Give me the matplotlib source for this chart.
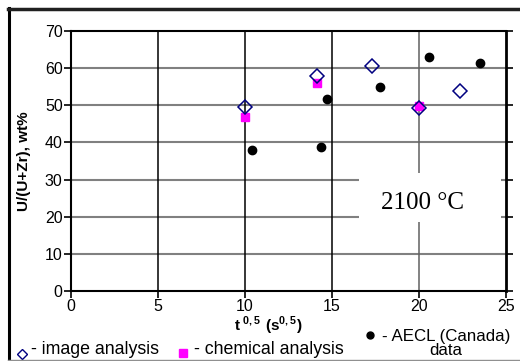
import matplotlib
matplotlib.use("Agg")
import matplotlib.pyplot as plt
from matplotlib.lines import Line2D
from matplotlib.patches import Rectangle

plt.rcParams['font.family'] = ['Liberation Sans', 'DejaVu Sans']
plt.rcParams['mathtext.fontset'] = 'custom'
plt.rcParams['mathtext.rm'] = 'Liberation Sans'
plt.rcParams['mathtext.bf'] = 'Liberation Sans:bold'

# data
img_x = [10.0, 14.15, 17.3, 20.0, 22.35]
img_y = [49.5, 58.0, 60.5, 49.4, 53.9]
chem_x = [10.0, 14.15, 20.0]
chem_y = [46.8, 55.9, 49.8]
aecl_x = [10.4, 14.35, 14.7, 17.75, 20.55, 23.5]
aecl_y = [38.0, 38.7, 51.8, 55.0, 63.1, 61.5]
xticks = [0, 5, 10, 15, 20, 25]
yticks = [0, 10, 20, 30, 40, 50, 60, 70]

W, H = 520, 361
fig = plt.figure(figsize=(W / 100, H / 100), dpi=100)
fig.patch.set_facecolor('white')

def fx(px):
    return px / W

def fy(py):
    return 1 - py / H

ax = fig.add_axes([fx(71), fy(291), fx(506) - fx(71), fy(31) - fy(291)])
ax.set_xlim(0, 25)
ax.set_ylim(0, 70)
ax.set_xticks(xticks)
ax.set_yticks(yticks)
ax.tick_params(axis='both', labelsize=11.5, length=5, width=1.2, color='black', pad=1)
ax.tick_params(axis='y', right=True, direction='out')
for s in ['left', 'bottom', 'top']:
    ax.spines[s].set_linewidth(1.5)
    ax.spines[s].set_color('black')
ax.spines['right'].set_linewidth(2.0)
ax.spines['right'].set_zorder(5)

for yv in yticks[1:-1]:
    ax.axhline(yv, color='#808080', lw=1.5, zorder=1)
for xv in xticks[1:-1]:
    ax.axvline(xv, color='black' if xv != 20 else '#606060', lw=1.1, zorder=1)

# text box
ax.add_patch(Rectangle((16.55, 18.6), 8.15, 13.2, facecolor='white', edgecolor='none', zorder=2))
ax.text(20.2, 22.1, '2100 °C', family='Liberation Serif', fontsize=18,
        ha='center', va='baseline', zorder=3)

ax.plot(aecl_x, aecl_y, 'o', color='black', ms=6, zorder=4, clip_on=False)
ax.plot(chem_x, chem_y, 's', color='#FF00FF', ms=6.3, zorder=5, clip_on=False)
ax.plot(img_x, img_y, 'D', mfc='none', mec='#000080', mew=1.1, ms=7.5, zorder=6, clip_on=False)

ax.set_ylabel('U/(U+Zr), wt%', fontsize=11, fontweight='bold', labelpad=10)
fig.text(fx(268), fy(326),
         r'$\mathbf{t}^{\ \mathbf{0,5}}\ \mathbf{(s}^{\mathbf{0,5}}\mathbf{)}$',
         fontsize=11, ha='center', va='center')

# legend-like annotations
fig.add_artist(Line2D([fx(21.7)], [fy(354)], marker='D', mfc='none', mec='#000080',
                      mew=1.0, ms=5, linestyle='none'))
fig.text(fx(31), fy(350), '- image analysis', fontsize=12.8, ha='left', va='center')
fig.add_artist(Line2D([fx(182.7)], [fy(353)], marker='s', color='#FF00FF',
                      ms=5.5, linestyle='none'))
fig.text(fx(194), fy(350), '- chemical analysis', fontsize=12.8, ha='left', va='center')
fig.add_artist(Line2D([fx(370)], [fy(335)], marker='o', color='black',
                      ms=5, linestyle='none'))
fig.text(fx(446), fy(343.5), '- AECL (Canada)\ndata', fontsize=12.2, ha='center',
         va='center', multialignment='center', linespacing=0.95)

# outer frame
fig.add_artist(Line2D([fx(9), fx(9)], [fy(8), fy(359)], color='black', lw=2.2))
fig.add_artist(Line2D([fx(8), fx(525)], [fy(8.5), fy(8.5)], color='#202020', lw=2.5))
fig.add_artist(Line2D([fx(8), fx(525)], [fy(359.5), fy(359.5)], color='#909090', lw=1.0))

fig.savefig('out.png', dpi=100, facecolor='white')
